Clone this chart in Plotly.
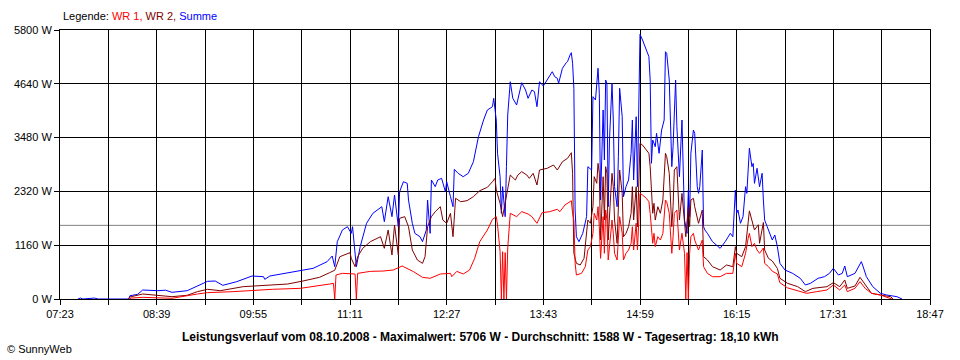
import plotly.graph_objects as go

# ---------------- data ----------------
x_tick_labels = ["07:23", "08:39", "09:55", "11:11", "12:27", "13:43",
                 "14:59", "16:15", "17:31", "18:47"]
y_tick_values = [0, 1160, 2320, 3480, 4640, 5800]
y_tick_labels = [f"{v} W" for v in y_tick_values]
grid_step_min = 38
avg_w = 1588
max_w = 5706
date_str = "08.10.2008"
yield_str = "18,10 kWh"

summe_time = [
    "07:37", "07:39", "07:41", "07:50", "07:53", "08:17", "08:18", "08:24", "08:28", "08:40",
    "08:46", "08:51", "09:03", "09:11", "09:19", "09:25", "09:31", "09:42", "09:54", "10:03",
    "10:04", "10:08", "10:26", "10:42", "10:53", "10:57", "10:59", "11:01", "11:03", "11:05",
    "11:09", "11:12", "11:13", "11:16", "11:19", "11:24", "11:29", "11:36", "11:38", "11:41",
    "11:44", "11:46", "11:49", "11:50", "11:53", "11:56", "11:57", "12:00", "12:02", "12:06",
    "12:08", "12:11", "12:12", "12:14", "12:15", "12:18", "12:20", "12:23", "12:26", "12:27",
    "12:30", "12:32", "12:33", "12:36", "12:40", "12:44", "12:48", "12:52", "12:56", "12:59",
    "13:03", "13:04", "13:06", "13:07", "13:09", "13:10", "13:11", "13:13", "13:14", "13:15",
    "13:17", "13:19", "13:22", "13:25", "13:26", "13:29", "13:31", "13:34", "13:36", "13:38",
    "13:40", "13:43", "13:46", "13:50", "13:52", "13:54", "13:55", "13:58", "14:01", "14:02",
    "14:04", "14:05", "14:06", "14:07", "14:08", "14:09", "14:11", "14:14", "14:17", "14:18",
    "14:21", "14:22", "14:24", "14:25", "14:26", "14:27", "14:28", "14:30", "14:31", "14:32",
    "14:33", "14:34", "14:35", "14:37", "14:38", "14:39", "14:41", "14:42", "14:43", "14:45",
    "14:46", "14:48", "14:50", "14:52", "14:53", "14:54", "14:56", "14:57", "14:58", "14:59",
    "15:01", "15:03", "15:05", "15:06", "15:07", "15:08", "15:09", "15:11", "15:12", "15:14",
    "15:16", "15:18", "15:19", "15:20", "15:22", "15:23", "15:24", "15:25", "15:26", "15:27",
    "15:28", "15:30", "15:32", "15:33", "15:34", "15:36", "15:37", "15:38", "15:39", "15:41",
    "15:42", "15:43", "15:44", "15:45", "15:46", "15:48", "15:48", "15:49", "15:50", "15:52",
    "15:56", "16:02", "16:06", "16:10", "16:12", "16:14", "16:15", "16:16", "16:18", "16:20",
    "16:22", "16:23", "16:25", "16:27", "16:28", "16:29", "16:31", "16:33", "16:35", "16:36",
    "16:37", "16:39", "16:43", "16:45", "16:47", "16:49", "16:53", "16:59", "17:05", "17:09",
    "17:13", "17:19", "17:24", "17:28", "17:31", "17:35", "17:38", "17:40", "17:42", "17:48",
    "17:53", "17:54", "17:57", "18:02", "18:08", "18:13", "18:21", "18:25",
]
summe_w = [
    0, 20, 0, 20, 0, 0, 71, 100, 194, 179,
    190, 144, 179, 280, 381, 388, 295, 374, 496, 481,
    424, 496, 589, 661, 805, 927, 697, 1236, 1358, 1488,
    1559, 1416, 1559, 697, 1128, 1632, 1848, 1990, 1667, 2206,
    1775, 2242, 1559, 2314, 2529, 2494, 2134, 1632, 1416, 1343,
    1236, 1488, 2134, 1416, 2566, 2422, 2566, 2602, 2314, 2529,
    2206, 1990, 2796, 2710, 2637, 2710, 2960, 3499, 3859, 4075,
    4146, 4327, 3859, 3141, 2637, 1848, 2422, 1775, 2853, 3967,
    4685, 4327, 4183, 4578, 4664, 4506, 4327, 4506, 4470, 4146,
    4685, 4592, 4722, 4901, 4793, 4758, 4650, 4974, 5095, 5117,
    5261, 5311, 5082, 4543, 1919, 1343, 1236, 1416, 1775, 2853,
    2781, 4362, 4290, 4650, 4974, 4435, 2134, 4075, 2997, 4722,
    4650, 1990, 3428, 4650, 3859, 2422, 1990, 3068, 4543, 3930,
    2206, 2422, 2566, 3141, 3859, 2566, 3930, 2422, 3859, 5706,
    5584, 5440, 5332, 5225, 4722, 2925, 3428, 3284, 3572, 3141,
    3643, 3859, 5332, 5297, 4722, 3643, 2853, 3284, 3859, 4722,
    3715, 2637, 3859, 2710, 1703, 1416, 2350, 1775, 3141, 3643,
    3572, 2997, 2422, 2278, 2422, 3212, 3141, 1559, 1488, 1416,
    1236, 1093, 1236, 1416, 1343, 2350, 1848, 1919, 1632, 1775,
    2422, 2278, 3249, 2853, 2925, 2494, 2818, 2422, 2710, 2134,
    1703, 1559, 1272, 1380, 1128, 769, 625, 553, 446, 302,
    338, 446, 481, 553, 661, 517, 553, 711, 481, 553,
    805, 733, 481, 266, 122, 86, 50, 0,
]

wr2_time = [
    "08:17", "08:18", "08:28", "08:40", "08:51", "09:03", "09:11", "09:19", "09:29", "09:47",
    "09:58", "10:08", "10:22", "10:34", "10:47", "10:55", "10:59", "11:03", "11:11", "11:12",
    "11:15", "11:17", "11:21", "11:27", "11:35", "11:38", "11:41", "11:44", "11:46", "11:49",
    "11:50", "11:54", "11:57", "12:00", "12:04", "12:08", "12:10", "12:12", "12:15", "12:18",
    "12:22", "12:24", "12:27", "12:30", "12:32", "12:34", "12:38", "12:43", "12:48", "12:53",
    "12:59", "13:03", "13:05", "13:06", "13:09", "13:11", "13:14", "13:17", "13:21", "13:23",
    "13:26", "13:30", "13:32", "13:35", "13:38", "13:40", "13:46", "13:51", "13:54", "13:58",
    "14:02", "14:05", "14:06", "14:07", "14:09", "14:12", "14:15", "14:17", "14:18", "14:20",
    "14:22", "14:23", "14:25", "14:26", "14:27", "14:28", "14:30", "14:31", "14:32", "14:33",
    "14:34", "14:36", "14:37", "14:38", "14:39", "14:41", "14:42", "14:43", "14:45", "14:46",
    "14:48", "14:50", "14:52", "14:53", "14:54", "14:56", "14:57", "14:58", "14:59", "15:01",
    "15:04", "15:06", "15:07", "15:09", "15:10", "15:11", "15:13", "15:15", "15:17", "15:19",
    "15:20", "15:22", "15:23", "15:24", "15:25", "15:26", "15:28", "15:30", "15:32", "15:34",
    "15:35", "15:37", "15:38", "15:39", "15:41", "15:42", "15:44", "15:45", "15:48", "15:48",
    "15:49", "15:52", "15:56", "16:02", "16:07", "16:12", "16:14", "16:15", "16:19", "16:22",
    "16:25", "16:27", "16:29", "16:32", "16:33", "16:36", "16:37", "16:40", "16:43", "16:47",
    "16:49", "16:55", "17:03", "17:09", "17:15", "17:26", "17:31", "17:36", "17:40", "17:42",
    "17:48", "17:52", "17:56", "18:01", "18:08", "18:16", "18:18",
]
wr2_w = [
    0, 43, 108, 86, 50, 80, 158, 209, 179, 266,
    280, 302, 323, 388, 467, 568, 620, 912, 998, 877,
    697, 912, 1093, 1236, 1343, 1093, 1488, 949, 1595, 949,
    1740, 1775, 1559, 1056, 841, 769, 912, 1559, 1775, 1883,
    1990, 1703, 1632, 1848, 1343, 2171, 2098, 2120, 2206, 2335,
    2408, 2529, 2602, 2350, 2063, 1775, 2206, 2673, 2566, 2673,
    2745, 2673, 2602, 2710, 2458, 2781, 2818, 2889, 2781, 2960,
    3033, 3154, 2710, 985, 769, 733, 877, 1343, 1703, 1632,
    1990, 2637, 2494, 2925, 2710, 1272, 2637, 1703, 2853, 2710,
    1272, 2278, 2710, 2422, 1703, 1200, 1990, 2781, 2278, 1343,
    1416, 1559, 1848, 2422, 1703, 2422, 1559, 2422, 3356, 3320,
    3212, 3141, 2853, 1848, 2063, 1703, 1990, 1848, 2134, 3141,
    3068, 2710, 2134, 1559, 1990, 2781, 2853, 1703, 2278, 1703,
    1343, 1990, 1559, 2134, 2171, 1990, 1703, 1632, 1919, 1848,
    912, 841, 697, 625, 733, 697, 1128, 985, 912, 1128,
    1900, 1667, 1488, 1600, 1200, 1650, 1056, 877, 820, 660,
    446, 338, 266, 158, 230, 266, 352, 266, 410, 230,
    280, 467, 302, 122, 86, 50, 0,
]

wr1_time = [
    "08:18", "08:19", "08:28", "08:40", "08:51", "09:11", "09:19", "09:39", "09:58", "10:10",
    "10:32", "10:47", "10:55", "10:58", "10:59", "11:00", "11:05", "11:15", "11:16", "11:17",
    "11:27", "11:37", "11:45", "11:52", "11:56", "12:01", "12:08", "12:14", "12:22", "12:30",
    "12:31", "12:35", "12:40", "12:45", "12:49", "12:53", "12:59", "13:03", "13:06", "13:07",
    "13:09", "13:10", "13:11", "13:12", "13:13", "13:14", "13:15", "13:17", "13:22", "13:26",
    "13:31", "13:34", "13:38", "13:42", "13:48", "13:54", "13:56", "14:00", "14:04", "14:05",
    "14:06", "14:07", "14:08", "14:09", "14:13", "14:16", "14:18", "14:20", "14:22", "14:23",
    "14:25", "14:26", "14:27", "14:28", "14:30", "14:31", "14:32", "14:33", "14:34", "14:36",
    "14:37", "14:38", "14:39", "14:41", "14:42", "14:43", "14:45", "14:46", "14:48", "14:50",
    "14:52", "14:53", "14:54", "14:56", "14:57", "14:58", "14:59", "15:01", "15:04", "15:06",
    "15:07", "15:09", "15:10", "15:11", "15:13", "15:15", "15:17", "15:19", "15:20", "15:22",
    "15:23", "15:24", "15:25", "15:26", "15:28", "15:30", "15:32", "15:34", "15:35", "15:36",
    "15:37", "15:38", "15:39", "15:41", "15:42", "15:44", "15:45", "15:48", "15:48", "15:49",
    "15:52", "15:56", "16:02", "16:07", "16:12", "16:14", "16:15", "16:19", "16:22", "16:24",
    "16:25", "16:27", "16:29", "16:31", "16:33", "16:36", "16:37", "16:40", "16:43", "16:47",
    "16:49", "16:55", "17:05", "17:10", "17:18", "17:26", "17:31", "17:36", "17:40", "17:42",
    "17:48", "17:52", "17:56", "18:01", "18:08", "18:14", "18:17",
]
wr1_w = [
    0, 20, 36, 29, 15, 108, 137, 158, 194, 209,
    230, 280, 323, 338, 0, 517, 553, 539, 0, 553,
    596, 603, 625, 711, 661, 589, 467, 446, 539, 553,
    481, 596, 539, 625, 877, 1236, 1488, 1718, 1775, 1595,
    1020, 0, 1020, 0, 1000, 0, 1100, 1848, 1775, 1883,
    1833, 1775, 1632, 1861, 1883, 1934, 1883, 2027, 2100, 2120,
    1848, 1703, 769, 517, 553, 697, 1056, 1128, 1416, 1848,
    1703, 1990, 1559, 877, 1775, 985, 1919, 1703, 841, 1416,
    1703, 1416, 985, 841, 1272, 1775, 1416, 841, 985, 1056,
    1200, 1559, 1056, 1632, 1056, 1703, 2278, 2242, 2171, 2098,
    1848, 1200, 1416, 1128, 1343, 1272, 1416, 2134, 2098, 1848,
    1416, 985, 1343, 1848, 1919, 1056, 1416, 985, 0, 1000,
    0, 985, 1343, 1416, 1272, 1128, 1056, 1272, 1200, 697,
    553, 481, 481, 553, 553, 985, 769, 697, 985, 1308,
    1416, 1128, 1200, 1056, 985, 1100, 769, 697, 600, 540,
    350, 240, 158, 122, 158, 194, 302, 194, 302, 158,
    230, 374, 230, 122, 86, 36, 0,
]


def to_min(hhmm):
    h, m = hhmm.split(":")
    return int(h) * 60 + int(m)


x_tick_vals = [to_min(t) for t in x_tick_labels]
x_start, x_end = x_tick_vals[0], x_tick_vals[-1]

FONT = "Liberation Sans, Arial, sans-serif"
C_WR1 = "#FF0000"
C_WR2 = "#800000"
C_SUM = "#0000FF"

fig = go.Figure()
fig.add_trace(go.Scatter(x=[to_min(t) for t in summe_time], y=summe_w, mode="lines",
                         line=dict(color=C_SUM, width=1), name="Summe"))
fig.add_trace(go.Scatter(x=[to_min(t) for t in wr2_time], y=wr2_w, mode="lines",
                         line=dict(color=C_WR2, width=1), name="WR 2"))
fig.add_trace(go.Scatter(x=[to_min(t) for t in wr1_time], y=wr1_w, mode="lines",
                         line=dict(color=C_WR1, width=1), name="WR 1"))

# average line
fig.add_shape(type="line", xref="paper", x0=0, x1=1, yref="y", y0=avg_w, y1=avg_w,
              line=dict(color="#808080", width=1), layer="between")

fig.update_xaxes(
    range=[x_start, x_end], tickmode="array", tickvals=x_tick_vals, ticktext=x_tick_labels,
    showgrid=True, gridcolor="black", gridwidth=1,
    ticks="outside", ticklen=5, tickcolor="black", tickwidth=1,
    showline=True, linecolor="black", linewidth=1, mirror=True, zeroline=False,
    minor=dict(tick0=x_start, dtick=grid_step_min, showgrid=True, gridcolor="black",
               gridwidth=1, ticks="outside", ticklen=5, tickcolor="black", tickwidth=1),
    tickfont=dict(family=FONT, size=11, color="black"), fixedrange=True,
)
fig.update_yaxes(
    range=[0, y_tick_values[-1]], tickmode="array", tickvals=y_tick_values,
    ticktext=y_tick_labels,
    showgrid=True, gridcolor="black", gridwidth=1,
    ticks="outside", ticklen=5, tickcolor="black", tickwidth=1,
    showline=True, linecolor="black", linewidth=1, mirror=True, zeroline=False,
    tickfont=dict(family=FONT, size=11, color="black"), fixedrange=True,
)

legend_txt = ("Legende: <span style='color:%s'>WR 1,</span> "
              "<span style='color:%s'>WR 2,</span> "
              "<span style='color:%s'>Summe</span>") % (C_WR1, C_WR2, C_SUM)
title_txt = ("<b>Leistungsverlauf vom %s - Maximalwert: %d W - Durchschnitt: %d W - "
             "Tagesertrag: %s</b>") % (date_str, max_w, avg_w, yield_str)

fig.update_layout(
    width=960, height=360,
    margin=dict(l=60, r=30, t=30, b=61, pad=0),
    paper_bgcolor="white", plot_bgcolor="white",
    showlegend=False, hovermode=False,
    font=dict(family=FONT, size=11, color="black"),
    annotations=[
        dict(text=legend_txt, xref="paper", yref="paper", x=0.0012, y=1.052,
             xanchor="left", yanchor="middle", showarrow=False,
             font=dict(family=FONT, size=11, color="black")),
        dict(text=title_txt, xref="paper", yref="paper", x=0.4828, y=-0.1413,
             xanchor="center", yanchor="middle", showarrow=False,
             font=dict(family=FONT, size=12, color="black")),
        dict(text="© SunnyWeb", xref="paper", yref="paper", x=-0.0632, y=-0.186,
             xanchor="left", yanchor="middle", showarrow=False,
             font=dict(family=FONT, size=11, color="black")),
    ],
)

fig.write_html("out.html", config={"displayModeBar": False},
               post_script="document.body.style.margin='0';")
